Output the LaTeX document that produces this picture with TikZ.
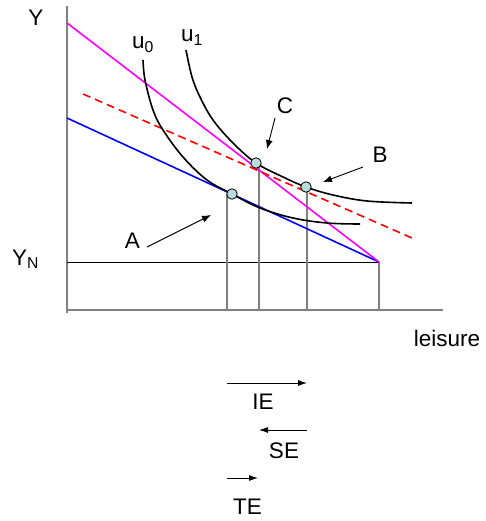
\documentclass[tikz,border=0pt]{standalone}
\usepackage{fontspec}
\setmainfont{Liberation Sans}
\usetikzlibrary{arrows.meta,positioning}

\definecolor{bundlefill}{RGB}{185,220,220}
\definecolor{budgetmag}{RGB}{255,0,255}
\definecolor{budgetblue}{RGB}{0,0,255}
\definecolor{budgetred}{RGB}{255,0,0}

\begin{document}
\begin{tikzpicture}[
        x=1pt, y=-1pt,
        lbl/.style={font=\fontsize{22.5}{25}\selectfont, inner sep=0pt},
        axis/.style={draw=gray, line width=1.4pt},
        drop/.style={draw=gray, line width=1.3pt},
        icurve/.style={draw=black, line width=1.6pt},
        budget/.style={line width=1.6pt},
        pointer/.style={draw, -{Latex[length=9pt,width=7pt]}, line width=0.9pt},
        effect/.style={draw, -{Latex[length=9pt,width=6pt]}, line width=0.9pt},
        bundle/.style={circle, draw, fill=bundlefill, minimum size=10.5pt, inner sep=0pt, line width=0.8pt}
    ]
    \useasboundingbox (0,0) rectangle (486,521);

    % axes and endowment
    \coordinate (ytop) at (67,6);
    \coordinate (ybot) at (67,313);
    \coordinate (origin) at (67,310);
    \coordinate (xend) at (443,310);
    \coordinate (yn) at (67,262);
    \coordinate (endow) at (379,262);

    \path [axis] (ytop) -- (ybot);
    \path [axis] (origin) -- (xend);
    \draw [line width=0.8pt] (yn) -- (endow);
    \path [drop] (endow) -- (endow |- origin);

    \node [lbl] (ylab) at (36,18) {Y};
    \node [lbl, anchor=base west] (ynlab) at (12,265) {Y\textsubscript{N}};
    \node [lbl] (xlab) at (447,338) {leisure};

    % drops to the axis
    \coordinate (dropA) at (227,194);
    \coordinate (dropC) at (259,163);
    \coordinate (dropB) at (307,187);
    \path [drop] (dropA) -- (dropA |- origin);
    \path [drop] (dropC) -- (dropC |- origin);
    \path [drop] (dropB) -- (dropB |- origin);

    % budget lines
    \coordinate (magtop) at (67,23);
    \coordinate (bluetop) at (67,118);
    \coordinate (redleft) at (83,94);
    \coordinate (redright) at (412,238);
    \draw [budget, budgetblue] (bluetop) -- (endow);
    \draw [budget, budgetmag] (magtop) -- (endow);
    \draw [budget, budgetred, dash pattern=on 8pt off 5pt] (redleft) -- (redright);

    % indifference curves
    \path [icurve] plot [smooth, tension=0.6] coordinates {(143,60) (145,80) (153,110) (163,130) (183,157) (207,180) (232,194) (260,208) (293,218) (327,223) (360,224)};
    \path [icurve] plot [smooth, tension=0.6] coordinates {(186,50) (192,77) (200,97) (213,120) (233,143) (256,163) (283,177) (306,187) (333,195) (367,201) (412,203)};
    \node [lbl, anchor=base west] (u0lab) at (132,49) {u\textsubscript{0}};
    \node [lbl, anchor=base west] (u1lab) at (181,42) {u\textsubscript{1}};

    % bundles
    \node [bundle] (A) at (232,194) {};
    \node [bundle] (C) at (256,163) {};
    \node [bundle] (B) at (306,187) {};

    \node [lbl] (labA) at (132.5,241) {A};
    \node [lbl] (labB) at (380,154.5) {B};
    \node [lbl] (labC) at (285,105.5) {C};
    \coordinate (tailA) at (147,247);
    \coordinate (tipA) at (211,215);
    \coordinate (tailB) at (363,167);
    \coordinate (tipB) at (323,182);
    \coordinate (tailC) at (275,118);
    \coordinate (tipC) at (267,149);
    \path [pointer] (tailA) -- (tipA);
    \path [pointer] (tailB) -- (tipB);
    \path [pointer] (tailC) -- (tipC);

    % effects
    \coordinate (ie0) at (227,383);
    \coordinate (ie1) at (307,383);
    \coordinate (se0) at (307,430);
    \coordinate (se1) at (259,430);
    \coordinate (te0) at (227,478);
    \coordinate (te1) at (258,478);
    \path [effect] (ie0) -- (ie1);
    \path [effect] (se0) -- (se1);
    \path [effect] (te0) -- (te1);
    \node [lbl] (ielab) at (263,401.5) {IE};
    \node [lbl] (selab) at (284,450.5) {SE};
    \node [lbl] (telab) at (247.5,506.5) {TE};

\end{tikzpicture}
\end{document}
